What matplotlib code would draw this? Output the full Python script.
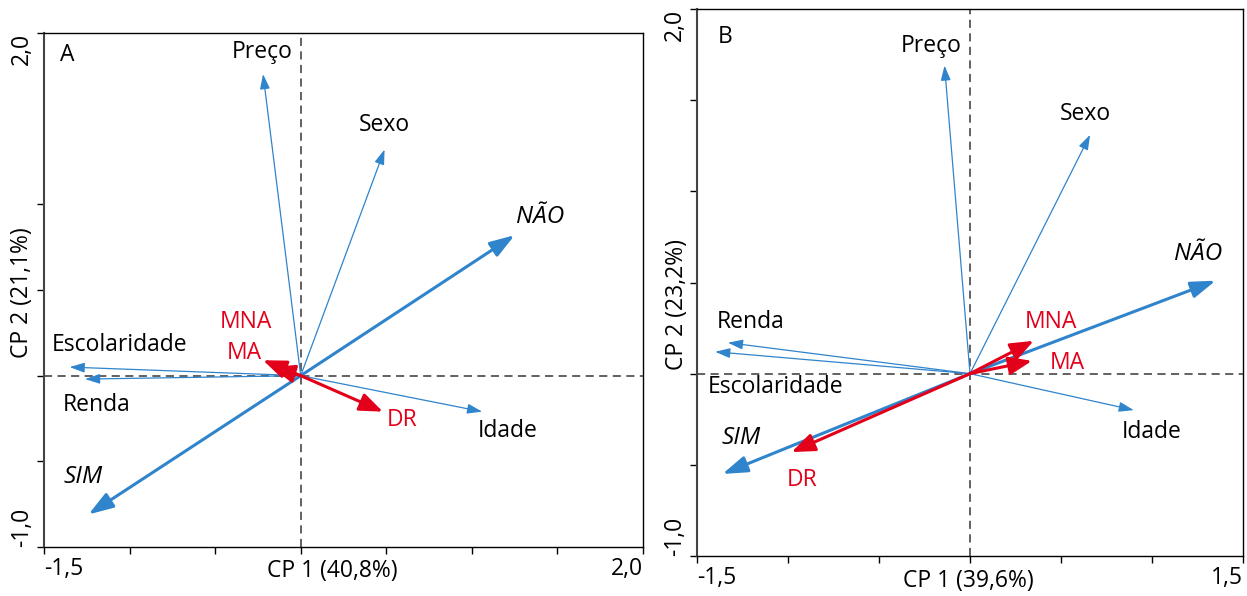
import matplotlib
matplotlib.use("Agg")
import matplotlib.pyplot as plt

plt.rcParams['font.family'] = ['Open Sans', 'DejaVu Sans']

# ---------------- data ----------------
# Panel A
a_vars = ["Preço", "Sexo", "Escolaridade", "Renda", "Idade"]
a_vars_x = [-0.22, 0.49, -1.35, -1.26, 1.06]
a_vars_y = [1.76, 1.32, 0.05, -0.02, -0.21]
a_resp = ["NÃO", "SIM"]
a_resp_x = [1.25, -1.24]
a_resp_y = [0.82, -0.81]
a_cls = ["MNA", "MA", "DR"]
a_cls_x = [-0.22, -0.17, 0.48]
a_cls_y = [0.09, 0.05, -0.21]

# Panel B
b_vars = ["Preço", "Sexo", "Escolaridade", "Renda", "Idade"]
b_vars_x = [-0.14, 0.66, -1.40, -1.33, 0.90]
b_vars_y = [1.69, 1.31, 0.12, 0.17, -0.20]
b_resp = ["NÃO", "SIM"]
b_resp_x = [1.35, -1.36]
b_resp_y = [0.51, -0.55]
b_cls = ["MNA", "MA", "DR"]
b_cls_x = [0.35, 0.34, -0.98]
b_cls_y = [0.18, 0.07, -0.43]

a_xlabel = "CP 1 (40,8%)"
a_ylabel = "CP 2 (21,1%)"
b_xlabel = "CP 1 (39,6%)"
b_ylabel = "CP 2 (23,2%)"

# ---------------- layout (label positions, data units) ----------------
a_lab = {"Preço": (-0.228, 1.889), "Sexo": (0.491, 1.462), "NÃO": (1.398, 0.924),
         "MNA": (-0.322, 0.316), "MA": (-0.327, 0.135), "Escolaridade": (-1.058, 0.181),
         "Renda": (-1.193, -0.170), "SIM": (-1.269, -0.591), "DR": (0.591, -0.257),
         "Idade": (1.211, -0.322)}
b_lab = {"Preço": (-0.214, 1.797), "Sexo": (0.632, 1.423), "NÃO": (1.253, 0.659),
         "Renda": (-1.203, 0.286), "Escolaridade": (-1.071, -0.071), "SIM": (-1.258, -0.352),
         "DR": (-0.923, -0.582), "MNA": (0.445, 0.286), "MA": (0.533, 0.060),
         "Idade": (1.000, -0.319)}

BLUE = '#2F84CC'
RED = '#E2001A'
GRAY = '#555555'
FS = 16.5
FS_IT = 17.5

W, H = 1247, 596
fig = plt.figure(figsize=(W / 100, H / 100), dpi=100)


def px_axes(l, t, r, b):
    return fig.add_axes([l / W, (H - b) / H, (r - l) / W, (b - t) / H])


def arrow(ax, x, y, color, lw, hl, hw):
    ax.annotate('', xy=(x, y), xytext=(0, 0),
                arrowprops=dict(arrowstyle=f'-|>,head_length={hl},head_width={hw}',
                                color=color, lw=lw, shrinkA=0, shrinkB=0,
                                mutation_scale=10))


def panel(ax, xlim, ylim, xticks, yticks, xl, yl, letter, letterpos,
          vars_, vx, vy, resp, rx, ry, cls, cx, cy, lab, xlab_pos, ylab_pos):
    ax.set_xlim(*xlim)
    ax.set_ylim(*ylim)
    ax.axhline(0, color=GRAY, lw=1.3, ls=(0, (4.5, 3)), zorder=1)
    ax.axvline(0, color=GRAY, lw=1.3, ls=(0, (4.5, 3)), zorder=1)
    for n, x, y in zip(vars_, vx, vy):
        arrow(ax, x, y, BLUE, 0.9, 0.9, 0.3)
        ax.text(*lab[n], n, fontsize=FS, ha='center', va='center', color='black')
    for n, x, y in zip(resp, rx, ry):
        arrow(ax, x, y, BLUE, 2.2, 1.5, 0.5)
        ax.text(*lab[n], n, fontsize=FS_IT, ha='center', va='center', color='black',
                style='italic')
    for n, x, y in zip(cls, cx, cy):
        arrow(ax, x, y, RED, 2.2, 1.4, 0.55)
        ax.text(*lab[n], n, fontsize=FS, ha='center', va='center', color=RED)
    ax.text(*letterpos, letter, transform=ax.transAxes, fontsize=FS,
            ha='center', va='center')

    ax.set_xticks(xticks)
    ax.set_xticklabels([f"{xticks[0]:.1f}".replace('.', ',')] + [''] * (len(xticks) - 2)
                       + [f"{xticks[-1]:.1f}".replace('.', ',')], fontsize=FS)
    ax.set_yticks(yticks)
    ax.set_yticklabels([f"{yticks[0]:.1f}".replace('.', ',')] + [''] * (len(yticks) - 2)
                       + [f"{yticks[-1]:.1f}".replace('.', ',')], fontsize=FS,
                       rotation=90)
    xtl = ax.get_xticklabels()
    xtl[0].set_ha('left')
    xtl[-1].set_ha('right')
    ytl = ax.get_yticklabels()
    ytl[0].set_va('bottom')
    ytl[-1].set_va('top')
    ax.tick_params(direction='out', length=5, width=1, pad=2, colors='black')

    ax.set_xlabel(xl, fontsize=FS)
    ax.xaxis.set_label_coords(*xlab_pos)
    ax.xaxis.label.set_va('center')
    ax.set_ylabel(yl, fontsize=FS)
    ax.yaxis.set_label_coords(*ylab_pos)
    ax.yaxis.label.set_va('center')
    for s in ax.spines.values():
        s.set_color('black')
        s.set_linewidth(1)
    ax.spines['left'].set_color('#444444')
    ax.spines['left'].set_linewidth(1.5)


axA = px_axes(44, 33, 643, 547)
panel(axA, (-1.5, 2.0), (-1.0, 2.0),
      [-1.5, -1.0, -0.5, 0.0, 0.5, 1.0, 1.5, 2.0],
      [-1.0, -0.5, 0.0, 0.5, 1.0, 2.0],
      a_xlabel, a_ylabel, "A", (0.038, 0.957),
      a_vars, a_vars_x, a_vars_y, a_resp, a_resp_x, a_resp_y,
      a_cls, a_cls_x, a_cls_y, a_lab,
      ((332 - 44) / 599, (547 - 571) / 514), ((22 - 44) / 599, (547 - 293) / 514))

axB = px_axes(697, 9, 1243, 556)
panel(axB, (-1.5, 1.5), (-1.0, 2.0),
      [-1.5, -1.0, -0.5, 0.0, 0.5, 1.0, 1.5],
      [-1.0, -0.5, 0.0, 0.5, 1.0, 1.5, 2.0],
      b_xlabel, b_ylabel, "B", (0.051, 0.949),
      b_vars, b_vars_x, b_vars_y, b_resp, b_resp_x, b_resp_y,
      b_cls, b_cls_x, b_cls_y, b_lab,
      ((968 - 697) / 546, (556 - 581) / 547), ((677 - 697) / 546, (556 - 304) / 547))

fig.savefig("out.png", dpi=100)
